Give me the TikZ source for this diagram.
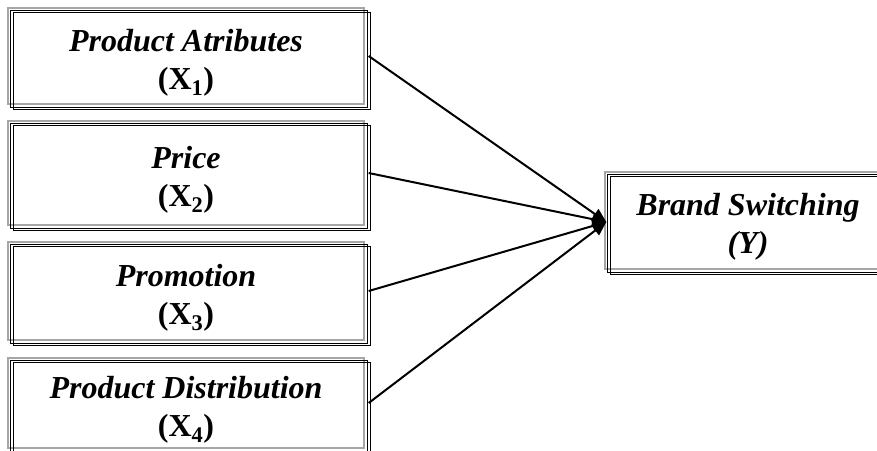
\documentclass[tikz,border=0pt]{standalone}
\usepackage{fontspec}
\setmainfont{Liberation Serif}
\usetikzlibrary{arrows.meta}
\newcommand{\topstrut}{\rule{0pt}{35pt}}
\tikzset{
  framebox/.style={draw=gray!70, line width=1.3pt, inner sep=0pt, align=center,
    font=\fontsize{32}{38}\selectfont\bfseries\itshape},
  frameline/.style={draw=black, line width=1.1pt},
  link/.style={line width=2pt, -{Triangle[length=14pt,width=12pt]}}
}
\begin{document}
\begin{tikzpicture}[x=1pt,y=-1pt]
\useasboundingbox (0,0) rectangle (877,450);
\clip (0,0) rectangle (877,450);
\node[framebox, minimum width=356pt, minimum height=96pt] (b1) at (186,56)
  {\topstrut Product Atributes\\\textup{(X\textsubscript{1})}};
\node[framebox, minimum width=356pt, minimum height=104pt] (b2) at (186,173)
  {\topstrut Price\\\textup{(X\textsubscript{2})}};
\node[framebox, minimum width=356pt, minimum height=98pt] (b3) at (186,291)
  {\topstrut Promotion\\\textup{(X\textsubscript{3})}};
\node[framebox, minimum width=356pt, minimum height=90pt] (b4) at (186,403)
  {\topstrut Product Distribution\\\textup{(X\textsubscript{4})}};
\node[framebox, minimum width=286pt, minimum height=97pt] (y) at (748,220.5)
  {\topstrut Brand Switching\\(Y)};
\foreach \n in {b1,b2,b3,b4,y}{
  \draw[frameline] ([shift={(3,3)}]\n.north west) rectangle ([shift={(3,3)}]\n.south east);
  \draw[frameline] ([shift={(6,5)}]\n.north west) rectangle ([shift={(6,5)}]\n.south east);
}
\foreach \n in {b1,b2,b3,b4}{
  \draw[link] ([xshift=4pt]\n.east) -- ([shift={(2,1.5)}]y.west);
}
\end{tikzpicture}
\end{document}
